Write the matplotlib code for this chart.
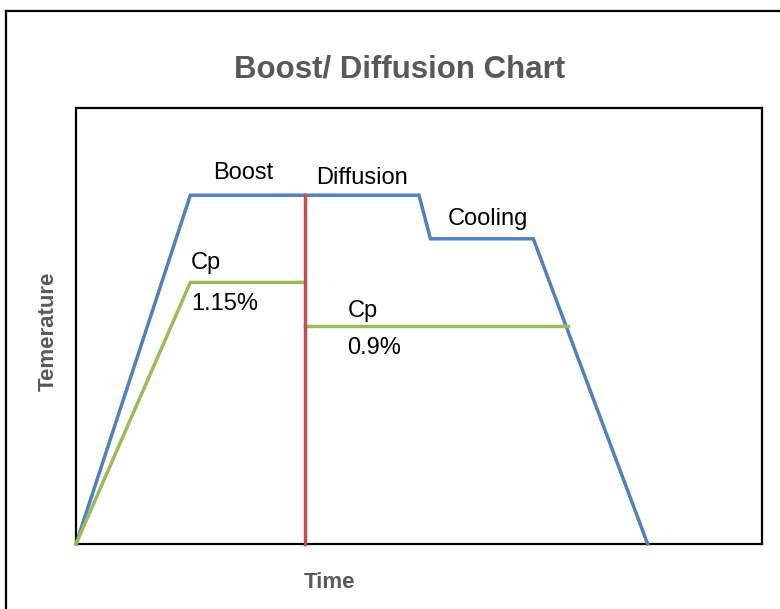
import matplotlib
matplotlib.use("Agg")
import matplotlib.pyplot as plt
from matplotlib.lines import Line2D

plt.rcParams['font.family'] = ['Liberation Sans', 'DejaVu Sans']

# Data (time units, temperature units)
blue_x = [0, 2, 6, 6.2, 8, 10]
blue_y = [0, 8, 8, 7, 7, 0]
green1_x = [0, 2, 4]
green1_y = [0, 6, 6]
green2_x = [4, 8.6]
green2_y = [5, 5]
red_x = [4, 4]
red_y = [0, 8]

labels = ["Boost", "Diffusion", "Cooling", "Cp", "1.15%", "Cp", "0.9%"]
label_x = [2.4, 4.2, 6.5, 2.0, 2.02, 4.75, 4.75]
label_y = [8.5, 8.4, 7.45, 6.45, 5.5, 5.35, 4.5]

W, H = 780, 609
fig = plt.figure(figsize=(W / 100, H / 100), dpi=100)

# outer chart frame (only left and top visible)
fig.add_artist(Line2D([6 / W, 6 / W], [-0.05, 1 - 10.5 / H], color='black', lw=1.6,
                      transform=fig.transFigure))
fig.add_artist(Line2D([6 / W, 1.05], [1 - 10.5 / H, 1 - 10.5 / H], color='black', lw=1.6,
                      transform=fig.transFigure))

ax = fig.add_axes([76 / W, 1 - 544 / H, 686 / W, 436 / H])
ax.set_xlim(0, 12)
ax.set_ylim(0, 10)
ax.set_xticks([])
ax.set_yticks([])
for s in ax.spines.values():
    s.set_color('black')
    s.set_linewidth(1.6)

ax.plot(blue_x, blue_y, color='#4F81BD', lw=2.5, solid_joinstyle='miter', clip_on=False, zorder=3)
ax.plot(green1_x, green1_y, color='#9BBB59', lw=2.5, clip_on=False, zorder=3)
ax.plot(green2_x, green2_y, color='#9BBB59', lw=2.5, clip_on=False, zorder=3)
ax.plot(red_x, red_y, color='#C0504D', lw=2.5, clip_on=False, zorder=4)

for t, x, y in zip(labels, label_x, label_y):
    ax.text(x, y, t, ha='left', va='center', fontsize=17, color='black')

fig.text(399.5 / W, 1 - 70 / H, "Boost/ Diffusion Chart", ha='center', va='center',
         fontsize=22.5, fontweight='bold', color='#595959')
fig.text(330 / W, 1 - 583 / H, "Time", ha='center', va='center',
         fontsize=16, fontweight='bold', color='#595959')
fig.text(48 / W, 1 - 331 / H, "Temerature", ha='center', va='center', rotation=90,
         fontsize=16, fontweight='bold', color='#595959')

fig.savefig("out.png", dpi=100)
